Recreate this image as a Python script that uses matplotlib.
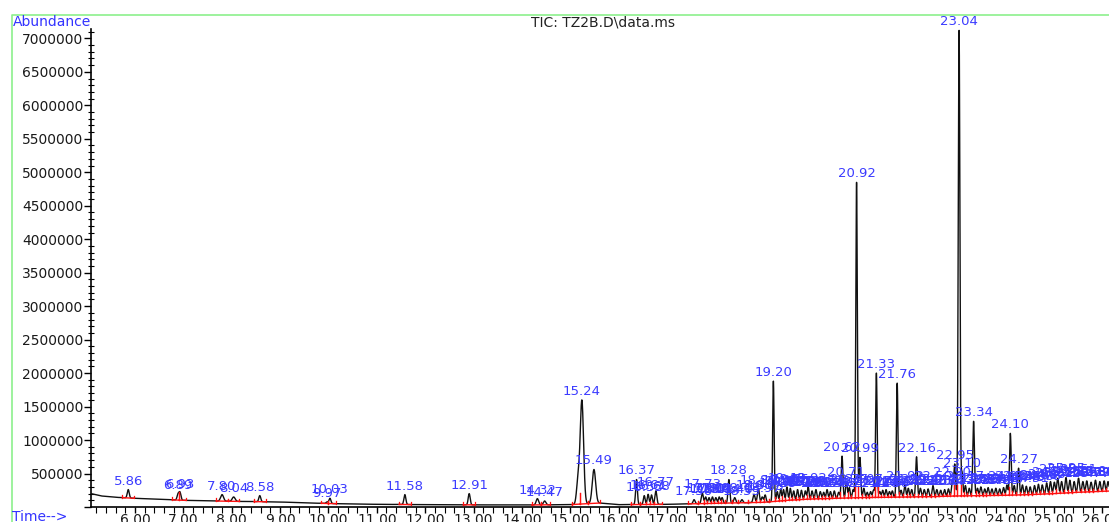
import numpy as np
import matplotlib
matplotlib.use("Agg")
import matplotlib.pyplot as plt
from matplotlib.ticker import MultipleLocator, FuncFormatter
from matplotlib.lines import Line2D

# ---------------- data ----------------
title = "TIC: TZ2B.D\\data.ms"
y_label = "Abundance"
x_label = "Time-->"

# baseline (trace floor) knots: time (min), abundance
base_times = [5.09, 5.3, 5.6, 6.0, 6.5, 7.0, 7.5, 8.0, 8.5, 9.0, 9.5, 10.0, 10.5, 11.0,
              12.0, 13.0, 14.0, 15.0, 15.6, 16.0, 17.0, 18.0, 19.0, 19.5, 20.0, 20.5,
              21.0, 21.5, 22.0, 22.5, 23.0, 23.5, 24.0, 24.5, 25.0, 25.5, 26.2]
base_values = [200000, 165000, 145000, 130000, 115000, 100000, 92000, 85000, 80000, 75000,
               62000, 52000, 45000, 40000, 35000, 32000, 30000, 35000, 60000, 35000, 40000,
               55000, 70000, 100000, 120000, 130000, 140000, 145000, 150000, 155000, 165000,
               170000, 175000, 185000, 200000, 220000, 240000]

# peaks: retention time (min), apex abundance, width (min)
peak_times = [5.86, 6.89, 6.93, 7.80, 8.04, 8.58, 9.97, 10.03, 11.58, 12.91, 14.32, 14.47,
              15.16, 15.24, 15.49, 16.37, 16.53, 16.61, 16.68, 16.77,
              17.56, 17.73, 17.80, 17.87, 17.94, 18.01, 18.08, 18.14, 18.28, 18.40, 18.55,
              18.80, 18.89, 18.97, 19.03, 19.20, 19.28, 19.35, 19.41, 19.48, 19.55, 19.62,
              19.70, 19.78, 19.86, 19.92, 20.00, 20.08, 20.17, 20.24, 20.31, 20.38, 20.46,
              20.55, 20.62, 20.71, 20.77, 20.85, 20.92, 20.99, 21.07, 21.14, 21.21, 21.27,
              21.33, 21.40, 21.46, 21.53, 21.60, 21.66, 21.76, 21.84, 21.92, 21.99, 22.06,
              22.16, 22.24, 22.32, 22.40, 22.50, 22.58, 22.66, 22.74, 22.82, 22.90, 22.95,
              23.04, 23.10, 23.17, 23.25, 23.34, 23.42, 23.49, 23.57, 23.64, 23.72, 23.80,
              23.88, 23.96, 24.03, 24.10, 24.18, 24.27, 24.35, 24.43, 24.51, 24.60, 24.68,
              24.76, 24.85, 24.93, 25.01, 25.08, 25.16, 25.25, 25.33, 25.42, 25.51, 25.60,
              25.68, 25.77, 25.86, 25.95, 26.04, 26.12]
peak_heights = [260000, 190000, 215000, 185000, 150000, 170000, 75000, 130000, 185000, 200000,
                125000, 90000,
                380000, 1590000, 560000, 410000, 170000, 190000, 180000, 240000,
                110000, 210000, 150000, 140000, 150000, 140000, 150000, 140000, 410000, 140000,
                110000,
                190000, 275000, 150000, 180000, 1880000, 230000, 270000, 260000, 300000, 280000,
                240000, 260000, 250000, 240000, 300000, 240000, 260000, 230000, 220000, 260000,
                230000, 240000, 220000, 760000, 380000, 290000, 260000, 4850000, 740000, 280000,
                220000, 230000, 250000, 2000000, 230000, 250000, 260000, 230000, 240000, 1850000,
                250000, 330000, 280000, 260000, 750000, 280000, 260000, 270000, 320000, 260000,
                250000, 260000, 270000, 380000, 640000, 7120000, 520000, 320000, 280000, 1280000,
                280000, 300000, 270000, 290000, 270000, 280000, 270000, 290000, 330000, 1100000,
                320000, 580000, 330000, 310000, 300000, 320000, 340000, 330000, 360000, 380000,
                370000, 430000, 380000, 440000, 400000, 380000, 430000, 380000, 390000, 370000,
                400000, 380000, 390000, 380000]
peak_widths = [0.02, 0.02, 0.02, 0.03, 0.03, 0.02, 0.02, 0.02, 0.02, 0.02, 0.025, 0.025,
               0.03, 0.035, 0.035, 0.018, 0.018, 0.018, 0.018, 0.02,
               0.02, 0.02, 0.018, 0.018, 0.018, 0.018, 0.018, 0.018, 0.018, 0.02, 0.02,
               0.02, 0.02, 0.018, 0.018, 0.015] + [0.017] * 22 + [0.016] + [0.017] * 5 + \
              [0.016] + [0.017] * 5 + [0.016] + [0.017] * 15 + [0.017] * 8 + [0.017] * 16 + \
              [0.018] * 16
peak_unlabelled = [15.16]

# ---------------- drawing ----------------
W, H = 1109, 522
fig = plt.figure(figsize=(W / 100, H / 100), dpi=100)
fig.patch.set_facecolor("white")

ax_left, ax_bottom_px, ax_top_px = 91, 507, 29
ax = fig.add_axes([ax_left / W, (H - ax_bottom_px) / H, 1 - ax_left / W,
                   (ax_bottom_px - ax_top_px) / H])
ax.set_xlim(5.09, 26.14)
ax.set_ylim(0, 7140000)

n = len(peak_times)
widths = (peak_widths + [0.017] * n)[:n]

t = np.linspace(5.09, 26.2, 24000)
base = np.interp(t, base_times, base_values)
trace = base.copy()
for pt, ph, pw in zip(peak_times, peak_heights, widths):
    amp = ph - np.interp(pt, base_times, base_values)
    trace += amp * np.exp(-0.5 * ((t - pt) / pw) ** 2)

ax.plot(t, trace, color="#111111", lw=1.0, zorder=3, solid_joinstyle="round")

# integration events (red)
red = "#ff1010"
for i, pt in enumerate(peak_times):
    lo = pt - 0.12
    hi = pt + 0.12
    if i > 0:
        lo = max(lo, 0.5 * (pt + peak_times[i - 1]))
    if i < n - 1:
        hi = min(hi, 0.5 * (pt + peak_times[i + 1]))
    b_lo = np.interp(lo, base_times, base_values)
    b_hi = np.interp(hi, base_times, base_values)
    ax.plot([lo, hi], [b_lo, b_hi], color=red, lw=1.0, zorder=4)
    for x0, b0 in ((lo, b_lo), (hi, b_hi)):
        top = np.interp(x0, t, trace)
        top = min(max(top, b0 + 40000), b0 + 170000)
        ax.plot([x0, x0], [b0, top], color=red, lw=0.9, zorder=4)

# peak labels
blue = "#3b3bff"
for pt, ph in zip(peak_times, peak_heights):
    if pt in peak_unlabelled:
        continue
    ax.annotate(f"{pt:.2f}", (pt, ph), xytext=(0, 1.5), textcoords="offset points",
                ha="center", va="bottom", fontsize=9.5, color=blue,
                family="DejaVu Sans", zorder=5, annotation_clip=False)

# axes styling
for s in ("top", "right"):
    ax.spines[s].set_visible(False)
ax.spines["left"].set_color("black")
ax.spines["bottom"].set_color("black")
ax.spines["left"].set_linewidth(1.2)
ax.spines["bottom"].set_linewidth(1.2)

ax.yaxis.set_major_locator(MultipleLocator(500000))
ax.yaxis.set_minor_locator(MultipleLocator(100000))
ax.yaxis.set_major_formatter(FuncFormatter(lambda v, _: "" if v <= 0 else f"{int(round(v))}"))
ax.xaxis.set_major_locator(MultipleLocator(1.0))
ax.xaxis.set_minor_locator(MultipleLocator(0.2))
ax.xaxis.set_major_formatter(FuncFormatter(lambda v, _: f"{v:.2f}"))

ax.tick_params(axis="y", which="major", direction="out", length=5, width=1,
               pad=0.5, labelsize=10, labelcolor="#1a1a1a")
ax.tick_params(axis="y", which="minor", direction="inout", length=4, width=0.8)
ax.tick_params(axis="x", which="major", direction="out", length=4, width=1,
               pad=0.5, labelsize=10, labelcolor="#1a1a1a")
ax.tick_params(axis="x", which="minor", direction="out", length=4, width=0.8)
for lab in ax.get_xticklabels() + ax.get_yticklabels():
    lab.set_family("DejaVu Sans")

# frame and texts
green = "#8cf08c"
fig.add_artist(Line2D([12 / W, 12 / W, 1.0], [0.0, 1 - 15 / H, 1 - 15 / H],
                      transform=fig.transFigure, color=green, lw=1.2))
fig.text(13 / W, 1 - 22 / H, y_label, color="#3333ff", fontsize=10,
         family="DejaVu Sans", ha="left", va="center")
fig.text(12 / W, 1 - 517 / H, x_label, color="#3333ff", fontsize=10,
         family="DejaVu Sans", ha="left", va="center")
fig.text(603 / W, 1 - 22 / H, title, color="#222222", fontsize=10,
         family="DejaVu Sans", ha="center", va="center")

fig.savefig("out.png", dpi=100, facecolor="white")
